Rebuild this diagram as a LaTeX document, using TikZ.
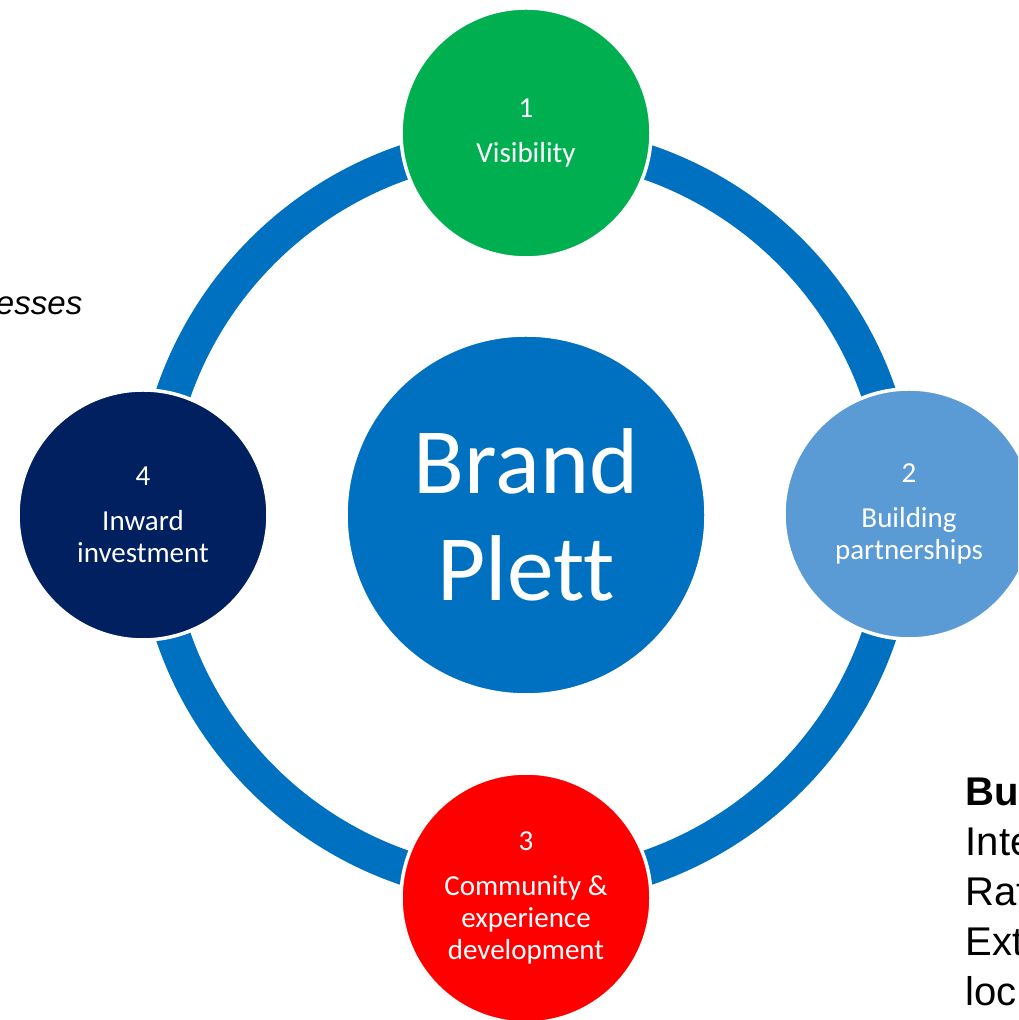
\documentclass[tikz,border=0pt]{standalone}
\usepackage{fontspec}
\setmainfont{Carlito}[Ligatures=NoCommon]
\newfontfamily\arialfont{Liberation Sans}
\usetikzlibrary{positioning}

\definecolor{ringblue}{HTML}{0070C0}
\definecolor{visgreen}{HTML}{00B050}
\definecolor{partblue}{HTML}{5B9BD5}
\definecolor{commred}{HTML}{FF0000}
\definecolor{investnavy}{HTML}{002060}

\tikzset{
  hub/.style={circle, fill=ringblue, draw=white, line width=1pt, minimum size=3.6cm, inner sep=0pt,
    text=white, align=center, font=\fontsize{26.6}{30.4}\selectfont},
  stage/.style={circle, draw=white, line width=1pt, minimum size=2.5cm, inner sep=0pt,
    text=white, align=center, font=\fontsize{8.25}{9.1}\selectfont},
  sidetext/.style={inner sep=0pt, anchor=base west, font=\arialfont\fontsize{11.4}{14.5}\selectfont}
}

\begin{document}
\begin{tikzpicture}
    \useasboundingbox (0,0) rectangle (10.18,10.20);
    \clip (0,0) rectangle (10.18,10.20);

    % Ring behind the stages
    \draw[line width=0.35cm, ringblue] (5.26,5.05) circle (3.73);

    % Hub
    \node[hub] (brand) at (5.26,5.05) {Brand\\Plett};

    % Stages round the ring
    \node[stage, fill=visgreen] (visibility) at (5.26,8.87) {1\\[3.7pt]Visibility};
    \node[stage, fill=partblue] (partnerships) at (9.09,5.06) {2\\[3.7pt]Building\\partnerships};
    \node[stage, fill=commred] (community) at (5.26,1.22) {3\\[3.7pt]Community \&\\experience\\development};
    \node[stage, fill=investnavy] (investment) at (1.43,5.05) {4\\[3.7pt]Inward\\investment};

    % Text running in from the page edges
    \node[inner sep=0pt, anchor=base east, font=\arialfont\itshape\fontsize{9.4}{11}\selectfont] (esses) at (0.83,7.05) {esses};
    \node[sidetext] (bu) at (9.65,2.14) {\bfseries Bu};
    \node[sidetext] (inte) at (9.65,1.64) {Inte};
    \node[sidetext] (rat) at (9.65,1.14) {Rat};
    \node[sidetext] (ext) at (9.65,0.64) {Ext};
    \node[sidetext] (loc) at (9.65,0.14) {loc};
\end{tikzpicture}
\end{document}
